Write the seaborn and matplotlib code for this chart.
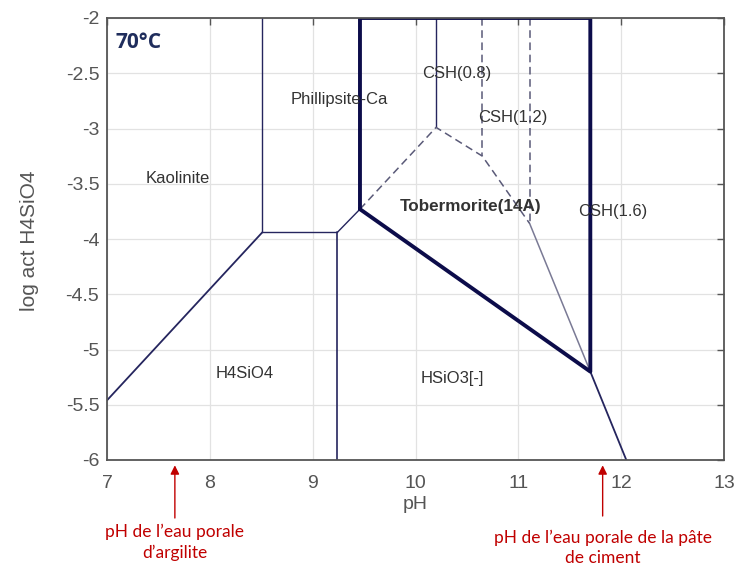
import matplotlib
matplotlib.use("Agg")
import matplotlib.pyplot as plt
import seaborn as sns
import numpy as np

# ---- data ----
# thin solid boundaries (pH, log act H4SiO4)
kao_h4_ph = [7.0, 8.51]
kao_h4_log = [-5.46, -3.94]
kao_phil_ph = [8.51, 8.51]
kao_phil_log = [-3.94, -2.0]
phil_h4_ph = [8.51, 9.24]
phil_h4_log = [-3.94, -3.94]
h4_hsio3_ph = [9.24, 9.24]
h4_hsio3_log = [-3.94, -6.0]
phil_tob_ph = [9.24, 9.46]
phil_tob_log = [-3.94, -3.73]
csh16_hsio3_ph = [11.70, 12.05]
csh16_hsio3_log = [-5.20, -6.0]
csh08_ph = [10.20, 10.20]
csh08_log = [-2.0, -2.99]
csh12_tob_gray_ph = [11.11, 11.70]
csh12_tob_gray_log = [-3.86, -5.20]
# thick outline (Tobermorite / CSH domain)
thick_ph = [9.46, 9.46, 11.70, 11.70, 9.46]
thick_log = [-3.73, -2.0, -2.0, -5.20, -3.73]
# dashed (metastable) boundaries
dash1_ph = [9.46, 10.20, 10.65, 11.11]
dash1_log = [-3.73, -2.99, -3.25, -3.86]
dash2_ph = [10.65, 10.65]
dash2_log = [-2.0, -3.25]
dash3_ph = [11.11, 11.11]
dash3_log = [-2.0, -3.86]

labels = ["Kaolinite", "Phillipsite-Ca", "CSH(0.8)", "CSH(1.2)", "Tobermorite(14A)",
          "CSH(1.6)", "H4SiO4", "HSiO3[-]"]
label_ph = [7.69, 9.26, 10.40, 10.95, 10.54, 11.92, 8.34, 10.36]
label_log = [-3.45, -2.74, -2.50, -2.90, -3.71, -3.75, -5.22, -5.26]

x_ticks = [7, 8, 9, 10, 11, 12, 13]
y_ticks = [-6, -5.5, -5, -4.5, -4, -3.5, -3, -2.5, -2]
y_ticklabels = ["-6", "-5.5", "-5", "-4.5", "-4", "-3.5", "-3", "-2.5", "-2"]

arrow_ph = [7.66, 11.82]
arrow_texts = ["pH de l\u2019eau porale\nd\u2019argilite",
               "pH de l\u2019eau porale de la p\u00e2te\nde ciment"]

# ---- figure ----
sns.set_theme(style="white")
plt.rcParams['font.family'] = ['Liberation Sans', 'DejaVu Sans']

fig = plt.figure(figsize=(7.38, 5.68), dpi=100)
ax = fig.add_axes([107/738, 1-460/568, 617/738, 442/568])

thin = "#25255e"
def seg(x, y, **kw):
    sns.lineplot(x=x, y=y, sort=False, estimator=None, ax=ax, legend=False, **kw)

seg(kao_h4_ph, kao_h4_log, color=thin, linewidth=1.3)
seg(kao_phil_ph, kao_phil_log, color=thin, linewidth=1.0)
seg(phil_h4_ph, phil_h4_log, color=thin, linewidth=1.0)
seg(h4_hsio3_ph, h4_hsio3_log, color=thin, linewidth=1.2)
seg(phil_tob_ph, phil_tob_log, color=thin, linewidth=1.0)
seg(csh16_hsio3_ph, csh16_hsio3_log, color=thin, linewidth=1.3)
seg(csh08_ph, csh08_log, color=thin, linewidth=1.0)
seg(csh12_tob_gray_ph, csh12_tob_gray_log, color="#7a7a95", linewidth=1.1)
seg(dash1_ph, dash1_log, color="#5a5a78", linewidth=1.1, linestyle=(0, (5, 3)))
seg(dash2_ph, dash2_log, color="#5a5a78", linewidth=1.1, linestyle=(0, (5, 3)))
seg(dash3_ph, dash3_log, color="#5a5a78", linewidth=1.1, linestyle=(0, (5, 3)))
seg(thick_ph, thick_log, color="#0c0c4a", linewidth=2.8)

for t, x, y in zip(labels, label_ph, label_log):
    bold = t.startswith("Tober")
    ax.text(x, y, t, ha="center", va="center", fontsize=12.3 if bold else 12,
            color="#333333", fontweight="bold" if bold else "normal")

ax.text(0.013, 0.945, "70\u00b0C", transform=ax.transAxes, fontsize=15,
        fontweight="bold", color="#1f2d5c", ha="left", va="center",
        family=['Open Sans', 'DejaVu Sans'])

ax.set_xlim(7, 13)
ax.set_ylim(-6, -2)
ax.set_xticks(x_ticks)
ax.set_xticklabels([str(v) for v in x_ticks])
ax.set_yticks(y_ticks)
ax.set_yticklabels(y_ticklabels)
ax.grid(True, color="#e2e2e2", linewidth=0.9)
ax.tick_params(axis="both", direction="in", length=5, width=1, colors="#555555",
               labelsize=14, top=True, right=True, labelcolor="#555555")
ax.tick_params(axis="x", pad=10.5)
ax.tick_params(axis="y", pad=5.5)
for s in ax.spines.values():
    s.set_color("#555555")
    s.set_linewidth(1.3)
ax.set_xlabel("pH", fontsize=14, color="#555555")
ax.set_ylabel("log act H4SiO4", fontsize=15, color="#555555")
ax.xaxis.set_label_coords(0.5, (460-496)/442)
ax.yaxis.set_label_coords(-(107-39)/617, 0.495)

trans = ax.get_xaxis_transform()
tail_y = [(460-518)/442, (460-516)/442]
text_y = [(460-542)/442, (460-548)/442]
for x, t, ty, tt in zip(arrow_ph, arrow_texts, tail_y, text_y):
    ax.annotate("", xy=(x, -0.012), xycoords=trans, xytext=(x, ty), textcoords=trans,
                arrowprops=dict(arrowstyle="-|>", color="#c00000", lw=1.0,
                                mutation_scale=13, shrinkA=0, shrinkB=0),
                annotation_clip=False)
    ax.text(x, tt, t, transform=trans, ha="center", va="center", fontsize=12.5,
            color="#c00000", linespacing=1.32, family=['Lato', 'DejaVu Sans'])

fig.savefig("out.png", dpi=100)
